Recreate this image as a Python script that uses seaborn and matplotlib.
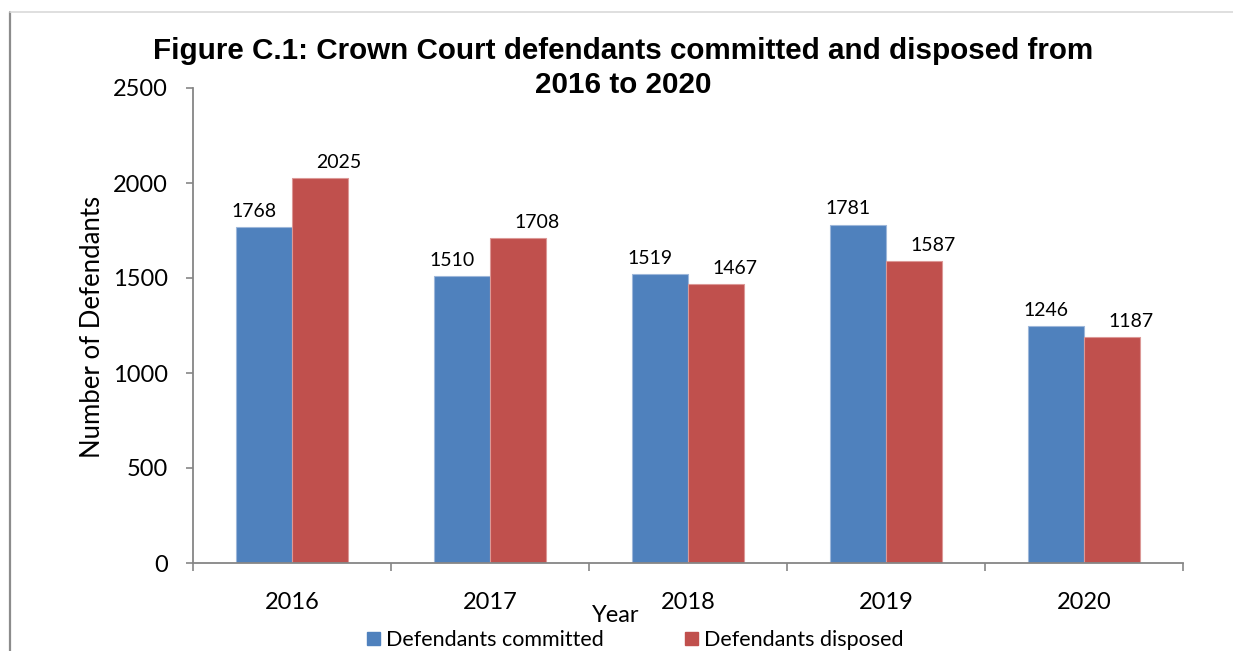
import matplotlib
matplotlib.use("Agg")
import matplotlib.pyplot as plt
from matplotlib.lines import Line2D
from matplotlib.patches import Patch
import seaborn as sns
import pandas as pd

years = ["2016", "2017", "2018", "2019", "2020"]
committed = [1768, 1510, 1519, 1781, 1246]
disposed = [2025, 1708, 1467, 1587, 1187]
series_names = ["Defendants committed", "Defendants disposed"]
y_ticks = [0, 500, 1000, 1500, 2000, 2500]

title_lines = ["Figure C.1: Crown Court defendants committed and disposed from",
               "2016 to 2020"]
colors = ["#4F81BD", "#C0504D"]
edge_colors = ["#9DB7DA", "#DC9896"]

df = pd.DataFrame({
    "Year": years * 2,
    "Value": committed + disposed,
    "Series": [series_names[0]] * len(years) + [series_names[1]] * len(years),
})

sns.set_theme(style="white")
plt.rcParams["font.family"] = ["Lato", "DejaVu Sans"]
plt.rcParams["text.color"] = "black"
plt.rcParams["axes.labelcolor"] = "black"
plt.rcParams["xtick.color"] = "black"
plt.rcParams["ytick.color"] = "black"

W, H = 1233, 651
fig = plt.figure(figsize=(W / 100, H / 100), dpi=100)
ax = fig.add_axes([193 / W, 1 - 563 / H, (1183 - 193) / W, (563 - 88) / H])

sns.barplot(data=df, x="Year", y="Value", hue="Series", order=years,
            hue_order=series_names, palette=colors, width=0.565,
            saturation=1, ax=ax, legend=False, linewidth=0.8)

for i, cont in enumerate(ax.containers):
    for bar in cont:
        bar.set_edgecolor(edge_colors[i])

axis_col = "#868686"
ax.set_xlim(-0.5, len(years) - 0.5)
ax.set_ylim(0, 2500)
ax.set_yticks(y_ticks)
ax.set_yticklabels([str(t) for t in y_ticks], fontsize=17, color="black")
ax.set_xticks(range(len(years)))
ax.set_xticklabels(years, fontsize=17, color="black")
ax.set_xticks([k - 0.5 for k in range(len(years) + 1)], minor=True)
ax.tick_params(axis="x", which="major", length=0, pad=21)
ax.tick_params(axis="x", which="minor", length=6, width=1.2, color=axis_col, direction="out", bottom=True)
ax.tick_params(axis="y", length=5, width=1.2, color=axis_col, direction="out", pad=13, left=True)
for s in ["top", "right"]:
    ax.spines[s].set_visible(False)
for s in ["left", "bottom"]:
    ax.spines[s].set_color(axis_col)
    ax.spines[s].set_linewidth(1.3)

ax.set_xlabel("")
ax.set_ylabel("")
fig.text(616 / W, 1 - 616 / H, "Year", fontsize=17, ha="center", va="center")
fig.text(93 / W, 1 - 327 / H, "Number of Defendants", fontsize=18.5, ha="center",
         va="center", rotation=90)

label_dx = [-10, 19]
for i, cont in enumerate(ax.containers):
    for bar in cont:
        h = bar.get_height()
        ax.annotate(f"{int(round(h))}", (bar.get_x() + bar.get_width() / 2, h),
                    xytext=(label_dx[i] * 0.72, 7.5), textcoords="offset points",
                    ha="center", va="baseline", fontsize=14, color="black")

for line, yc in zip(title_lines, [51, 85]):
    fig.text(623 / W, 1 - yc / H, line, fontsize=21.3, fontweight="bold",
             family=["Liberation Sans", "DejaVu Sans"], ha="center", va="center",
             color="black")

handles = [Patch(facecolor=c, edgecolor=c) for c in colors]
fig.legend(handles, series_names, loc="lower left",
           bbox_to_anchor=(367 / W, 1 / H), ncol=2, frameon=False,
           fontsize=15.5, handlelength=0.6, handleheight=0.6, handletextpad=0.3,
           columnspacing=3.75, borderpad=0, borderaxespad=0)

fig.add_artist(Line2D([10 / W, 10 / W], [0, 1 - 12 / H], color="#8c8c8c", lw=1.6,
                      transform=fig.transFigure))
fig.add_artist(Line2D([10 / W, 1], [1 - 12 / H, 1 - 12 / H], color="#d9d9d9", lw=1.2,
                      transform=fig.transFigure))

fig.savefig("out.png", dpi=100)
